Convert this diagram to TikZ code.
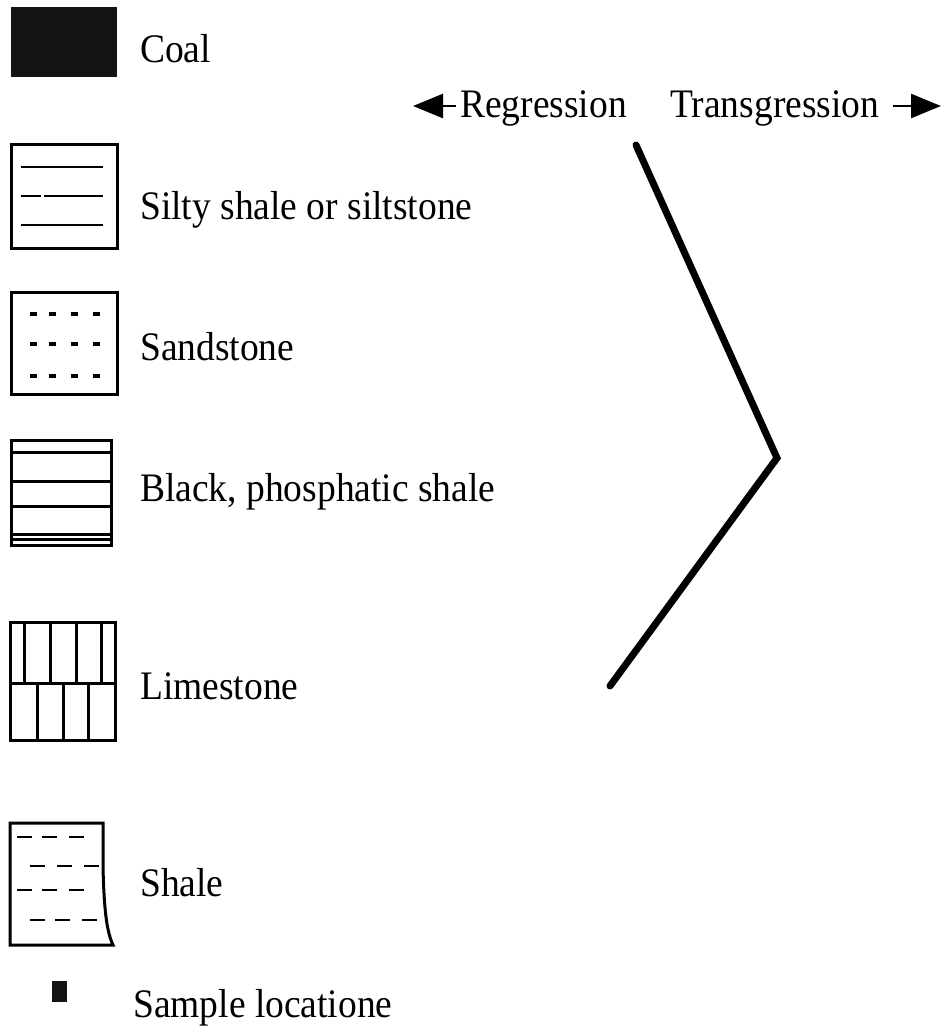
\documentclass[tikz,border=0pt]{standalone}
\usepackage{fontspec}
\setmainfont{Liberation Serif}
\usetikzlibrary{arrows.meta}
\newcommand\tallt[1]{\scalebox{1}[1.08]{#1}}
\begin{document}
\begin{tikzpicture}[x=1pt,y=-1pt,
  box/.style={draw=black,line width=3pt},
  inner/.style={draw=black,line width=2.8pt},
  dots/.style={draw=black,line width=4pt},
  lab/.style={anchor=base west,inner sep=0pt,font=\fontsize{37.5}{42}\selectfont},
  curve/.style={draw=black,line width=7pt,line cap=round,line join=miter},
  arr/.style={-{Triangle[length=30pt,width=24pt]},line width=2.5pt}]
\useasboundingbox (0,0) rectangle (944,1034);
% Coal
\fill[black!92] (11,7) rectangle (117,77);
\node[lab] (coal) at (140,62) {\tallt{Coal}};
% Silty shale
\draw[box] (11,144) rectangle (117,248);
\foreach \y in {167,196,225} \draw[inner] (21,\y) -- (103,\y);
\draw[white,line width=4pt] (41,196) -- (44,196);
\node[lab] (silty) at (140,219) {\tallt{Silty shale or siltstone}};
% Sandstone
\draw[box] (11,292) rectangle (117,394);
\foreach \y in {314,344,376}
  \foreach \x in {33,52,74,96}
    \draw[dots] (\x-3.5,\y) -- (\x+3.5,\y);
\node[lab] (sand) at (140,360) {\tallt{Sandstone}};
% Black phosphatic shale
\draw[box] (11,440) rectangle (111,545);
\foreach \y in {452,481,506,534,539} \draw[box] (11,\y) -- (111,\y);
\node[lab] (black) at (140,501) {\tallt{Black, phosphatic shale}};
% Limestone
\draw[box] (10,622) rectangle (115,740);
\draw[box] (10,683) -- (115,683);
\foreach \x in {24,50,76,101} \draw[box] (\x,622) -- (\x,683);
\foreach \x in {37,63,88} \draw[box] (\x,683) -- (\x,740);
\node[lab] (lime) at (140,699) {\tallt{Limestone}};
% Shale
\draw[box,line join=miter] (10,823) -- (103,823) -- (103,866) .. controls (104,912) and (107,932) .. (113,945) -- (10,945) -- cycle;
\foreach \x in {17,42,69} {\draw[inner] (\x,837) -- (\x+15,837); \draw[inner] (\x,890) -- (\x+15,890);}
\foreach \x in {30,57,84} {\draw[inner] (\x,866) -- (\x+15,866);}
\foreach \x in {30,55,82} {\draw[inner] (\x,920) -- (\x+15,920);}
\node[lab] (shale) at (140,896) {\tallt{Shale}};
% Sample location
\fill[black!92] (52,981) rectangle (67,1002);
\node[lab] (sample) at (133,1017) {\tallt{Sample locatione}};
% Regression / Transgression
\node[lab] (reg) at (460,117) {\tallt{Regression}};
\node[lab] (trans) at (670,117) {\tallt{Transgression}};
\coordinate (rl) at (413,106);
\coordinate (rr) at (941,106);
\draw[arr] ([xshift=-4pt]reg.west |- rl) -- (rl);
\draw[arr] ([xshift=14pt]trans.east |- rr) -- (rr);
% Curve
\coordinate (c1) at (636,145);
\coordinate (c2) at (777,458);
\coordinate (c3) at (610,686);
\draw[curve] (c1) -- (c2) -- (c3);
\end{tikzpicture}
\end{document}
